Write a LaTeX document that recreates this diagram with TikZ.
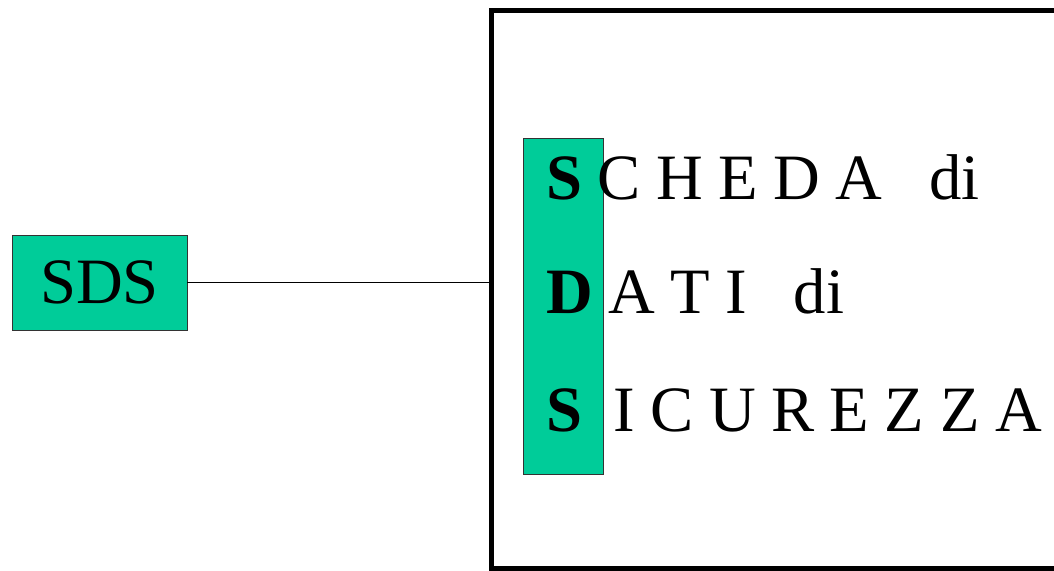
\documentclass[tikz,border=0pt]{standalone}
\usepackage{fontspec}
\setmainfont{Liberation Serif}
\definecolor{sdsgreen}{HTML}{00CC99}
\usetikzlibrary{positioning}
\newcommand\spacedfont{\fontsize{46}{55}\selectfont\spaceskip=0.24em\relax}

\begin{document}
\begin{tikzpicture}[
  x=0.025cm, y=-0.025cm,
  greenbox/.style={draw=black!80, line width=0.6pt, fill=sdsgreen,
    inner sep=0pt},
  letters/.style={font=\spacedfont, anchor=base west, inner sep=0pt}
]
  \useasboundingbox (0,0) rectangle (1054,571);
  \clip (0,0) rectangle (1054,571);

  % Left tag
  \node[greenbox, minimum width=4.375cm, minimum height=2.375cm,
    font=\fontsize{46}{55}\selectfont] (sds) at (99.5,282.5) {SDS};

  % Frame (runs off the right side)
  \node[draw, line width=3.5pt, minimum width=15.21cm,
    minimum height=13.94cm, inner sep=0pt] (frame) at (795.75,289.25) {};

  % Connector
  \draw[line width=1pt] (sds.east) -- (sds.east -| frame.west);

  % Acronym bar
  \node[greenbox, minimum width=2cm, minimum height=8.4cm] (bar)
    at (563.5,306) {};

  % Expanded words
  \node[letters] (line1) at (546,200) {\textbf{S}\ C\ H\ E\ D\ A\ \ \ di};
  \node[letters] (line2) at (546,314) {\textbf{D}\ A\ T\ I\ \ \ di};
  \node[letters] (line3) at (546,431) {\textbf{S}\ \ I\ C\ U\ R\ E\ Z\ Z\ A};
\end{tikzpicture}
\end{document}
